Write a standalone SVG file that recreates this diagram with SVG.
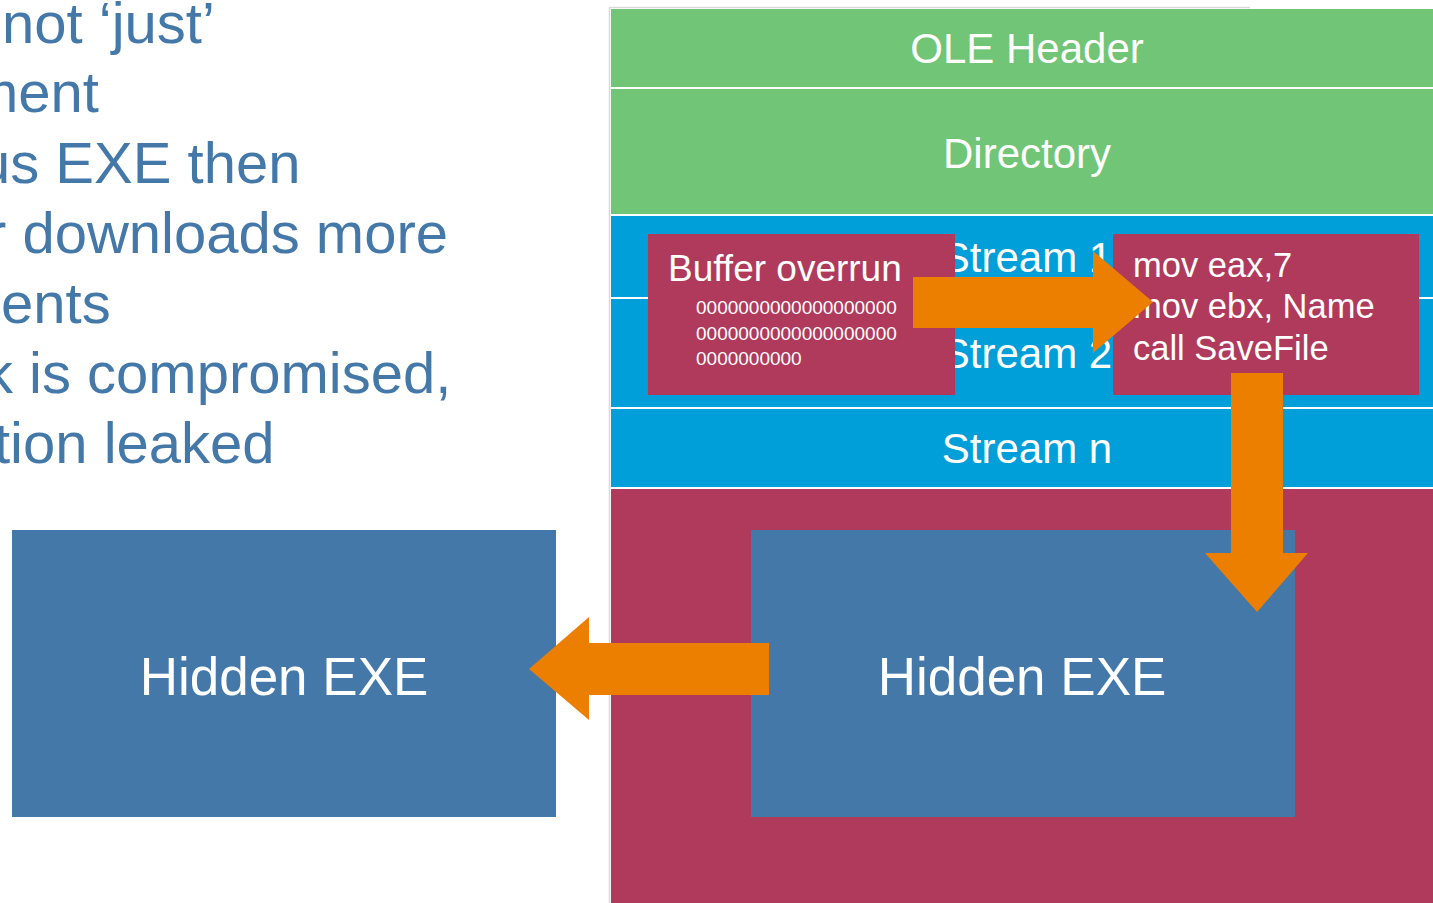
<svg xmlns="http://www.w3.org/2000/svg" width="1433" height="903" viewBox="0 0 1433 903">
<style>
.t{font-family:"Liberation Sans",Arial,sans-serif;fill:#fff}
.bt{font-family:"Liberation Sans",Arial,sans-serif;fill:#4478A9;font-size:58px}
.green{fill:#71C576}
.blue{fill:#009FD9}
.red{fill:#B03A5C}
.steel{fill:#4478A9}
.arrow{fill:#EC7E00}
</style>
<rect width="1433" height="903" fill="#fff"/>
<g id="bullets">
<text class="bt" x="2" y="43">not ‘just’</text>
<text class="bt" x="-30" y="112">ment</text>
<text class="bt" x="-22" y="183">us EXE then</text>
<text class="bt" x="-13" y="253">r downloads more</text>
<text class="bt" x="1" y="323">ents</text>
<text class="bt" x="-16" y="393">k is compromised,</text>
<text class="bt" x="-6" y="463">tion leaked</text>
</g>
<path d="M609.5 903 V7.5 H1250" fill="none" stroke="#d9d9d9" stroke-width="1.5"/>
<g id="ole-header"><rect class="green" x="611" y="9" width="822" height="78"/><text class="t" x="1027" y="63" font-size="42" text-anchor="middle">OLE Header</text></g>
<g id="directory"><rect class="green" x="611" y="89" width="822" height="125"/><text class="t" x="1027" y="168" font-size="42" text-anchor="middle">Directory</text></g>
<g id="stream1"><rect class="blue" x="611" y="216" width="822" height="81"/><text class="t" x="1027" y="272" font-size="42" text-anchor="middle">Stream 1</text></g>
<g id="stream2"><rect class="blue" x="611" y="299" width="822" height="108"/><text class="t" x="1027" y="368" font-size="42" text-anchor="middle">Stream 2</text></g>
<g id="streamn"><rect class="blue" x="611" y="409" width="822" height="78"/><text class="t" x="1027" y="463" font-size="42" text-anchor="middle">Stream n</text></g>
<g id="payload-area"><rect class="red" x="611" y="489" width="822" height="414"/></g>
<g id="hidden-exe-inner"><rect class="steel" x="751" y="530" width="544" height="287"/><text class="t" x="1022" y="695" font-size="53" text-anchor="middle">Hidden EXE</text></g>
<g id="hidden-exe-out"><rect class="steel" x="12" y="530" width="544" height="287"/><text class="t" x="284" y="695" font-size="53" text-anchor="middle">Hidden EXE</text></g>
<g id="buffer-overrun"><rect class="red" x="648" y="234" width="307" height="161"/>
<text class="t" x="668" y="281" font-size="37">Buffer overrun</text>
<text class="t" x="696" y="314" font-size="19">0000000000000000000</text>
<text class="t" x="696" y="340" font-size="19">0000000000000000000</text>
<text class="t" x="696" y="365" font-size="19">0000000000</text>
</g>
<g id="code"><rect class="red" x="1113" y="234" width="306" height="161"/>
<text class="t" x="1133" y="277" font-size="34.5">mov eax,7</text>
<text class="t" x="1133" y="318" font-size="34.5">mov ebx, Name</text>
<text class="t" x="1133" y="360" font-size="34.5">call SaveFile</text>
</g>
<g id="connectors">
<polygon class="arrow" points="913,277 1093,277 1093,251 1153,302 1093,353 1093,328 913,328"/>
<polygon class="arrow" points="1231,373 1283,373 1283,553 1308,553 1257,612 1205,553 1231,553"/>
<polygon class="arrow" points="769,643 589,643 589,617 529,669 589,720 589,695 769,695"/>
</g>
</svg>
